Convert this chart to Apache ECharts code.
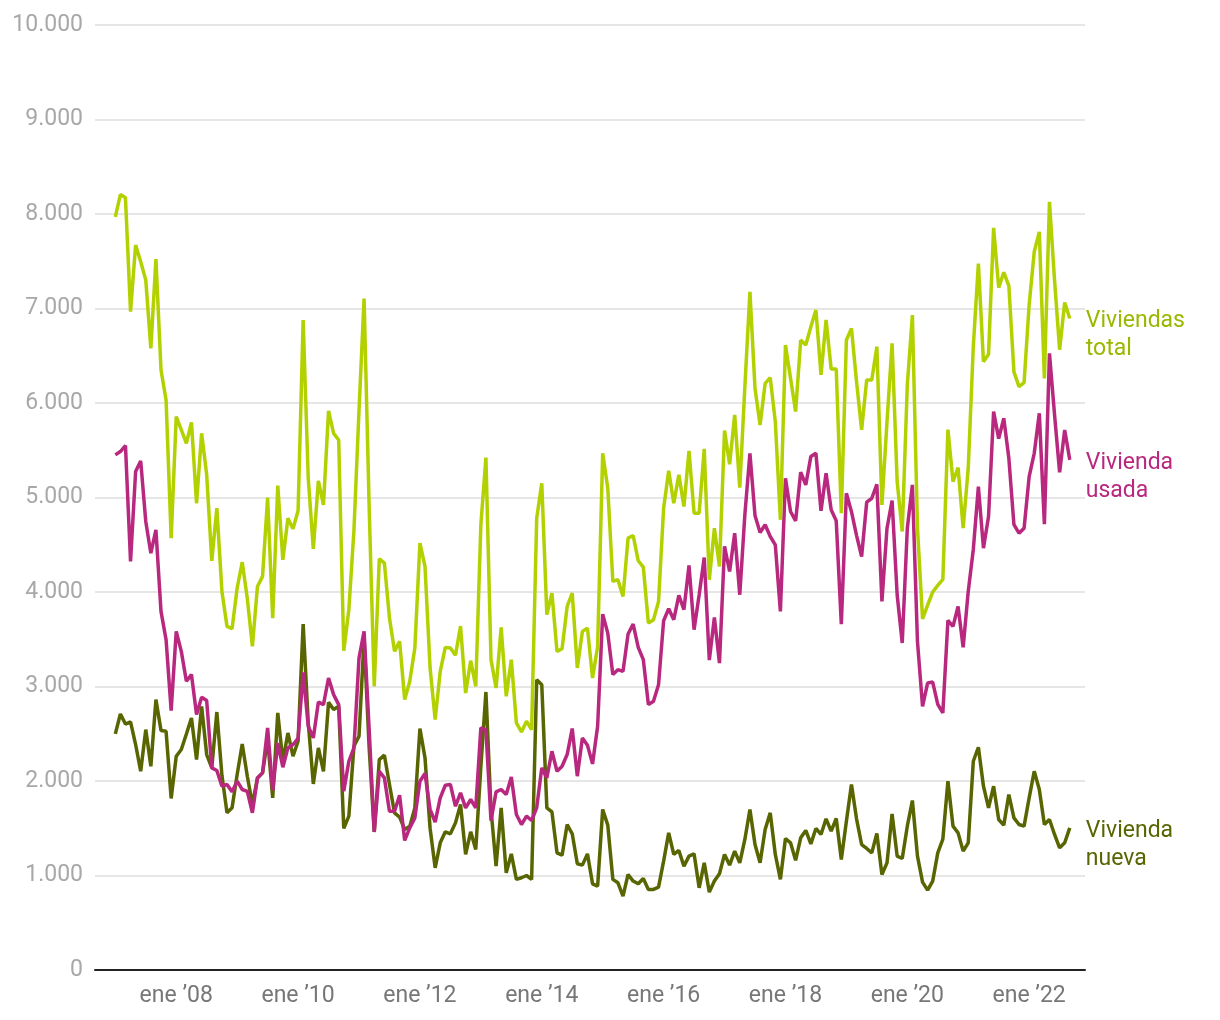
<!DOCTYPE html>
<html lang="es">
<head>
<meta charset="utf-8">
<title>Compraventa de viviendas</title>
<script src="https://cdn.jsdelivr.net/npm/echarts@6/dist/echarts.min.js"></script>
<style>
  html, body { margin: 0; padding: 0; background: #fff; }
  #chart { width: 1220px; height: 1020px; }
</style>
</head>
<body>
<div id="chart"></div>
<script>
// monthly series, ene 2007 - sep 2022
const firstYear = 2007
const padBefore = 4   // sep-dic 2006, empty
const padAfter = 3    // oct-dic 2022, empty

const total = [
  7970, 8206, 8171, 6966, 7671, 7494, 7300, 6578, 7522, 6349, 6032, 4570,
  5856, 5715, 5574, 5795, 4939, 5679, 5240, 4330, 4887, 4006, 3636, 3612,
  4042, 4316, 3930, 3425, 4059, 4165, 5000, 3724, 5127, 4341, 4781, 4669,
  4859, 6878, 5204, 4457, 5176, 4922, 5916, 5679, 5609, 3379, 3813, 4650,
  5920, 7106, 4900, 3002, 4352, 4305, 3724, 3372, 3478, 2861, 3055, 3407,
  4517, 4270, 3196, 2650, 3160, 3414, 3407, 3330, 3640, 2931, 3273, 3002,
  4711, 5422, 3284, 2984, 3626, 2896, 3284, 2614, 2519, 2632, 2544, 4781,
  5151, 3760, 3988, 3372, 3400, 3847, 3988, 3196, 3583, 3618, 3090, 3420,
  5468, 5098, 4112, 4130, 3953, 4570, 4598, 4331, 4263, 3671, 3707, 3900,
  4887, 5282, 4939, 5240, 4904, 5493, 4834, 4834, 5514, 4130, 4675, 4270,
  5708, 5352, 5874, 5105, 6170, 7177, 6155, 5768, 6208, 6268, 5803, 4764,
  6614, 6261, 5909, 6666, 6614, 6807, 6983, 6297, 6878, 6360, 6360, 4834,
  6666, 6789, 6226, 5715, 6244, 6244, 6596, 4922, 5800, 6631, 5169, 4640,
  6191, 6931, 4680, 3715, 3860, 4000, 4070, 4133, 5718, 5169, 5317, 4675,
  5310, 6600, 7476, 6437, 6515, 7853, 7220, 7382, 7240, 6330, 6173, 6215,
  7040, 7600, 7811, 6261, 8128, 7300, 6564, 7064, 6895
]

const usada = [
  5451, 5486, 5549, 4323, 5274, 5387, 4746, 4411, 4658, 3795, 3495, 2745,
  3583, 3372, 3055, 3126, 2703, 2886, 2851, 2139, 2111, 1945, 1963, 1885,
  1998, 1910, 1890, 1663, 2033, 2086, 2561, 1900, 2400, 2146, 2350, 2386,
  2450, 3150, 2579, 2456, 2836, 2808, 3090, 2914, 2808, 1892, 2209, 2350,
  3301, 3583, 2550, 1460, 2103, 2033, 1681, 1681, 1850, 1371, 1504, 1610,
  1998, 2080, 1700, 1564, 1821, 1955, 1963, 1733, 1874, 1716, 1804, 1716,
  2561, 2540, 1580, 1885, 1910, 1857, 2043, 1645, 1540, 1628, 1582, 1716,
  2139, 2033, 2315, 2103, 2156, 2280, 2555, 2051, 2456, 2378, 2181, 2579,
  3766, 3565, 3126, 3178, 3160, 3555, 3660, 3414, 3284, 2808, 2843, 3019,
  3696, 3823, 3707, 3964, 3813, 4281, 3601, 3971, 4365, 3280, 3731, 3248,
  4482, 4217, 4623, 3971, 4817, 5468, 4810, 4630, 4711, 4587, 4499, 3795,
  5204, 4852, 4753, 5267, 5134, 5433, 5468, 4859, 5257, 4870, 4753, 3660,
  5045, 4850, 4600, 4376, 4950, 4992, 5140, 3900, 4675, 4968, 3971, 3460,
  4675, 5134, 3478, 2790, 3037, 3047, 2812, 2720, 3700, 3636, 3847, 3414,
  4006, 4450, 5116, 4464, 4799, 5909, 5623, 5838, 5415, 4714, 4623, 4675,
  5221, 5468, 5891, 4717, 6525, 5877, 5267, 5715, 5398
]

const nueva = [
  2498, 2709, 2603, 2625, 2386, 2103, 2544, 2156, 2861, 2534, 2526, 1815,
  2262, 2333, 2498, 2667, 2227, 2790, 2280, 2139, 2730, 2060, 1663, 1716,
  2068, 2392, 2050, 1751, 2033, 2086, 2440, 1821, 2720, 2209, 2508, 2262,
  2420, 3660, 2620, 1969, 2350, 2103, 2833, 2756, 2790, 1498, 1628, 2368,
  2473, 3512, 2350, 1462, 2227, 2273, 1963, 1663, 1617, 1487, 1520, 1716,
  2555, 2245, 1500, 1081, 1346, 1462, 1441, 1557, 1751, 1223, 1462, 1276,
  2150, 2942, 1700, 1099, 1716, 1028, 1229, 959, 976, 1000, 959, 3072,
  3019, 1716, 1673, 1240, 1215, 1540, 1441, 1124, 1110, 1229, 912, 888,
  1699, 1533, 959, 923, 782, 1011, 941, 912, 969, 853, 853, 877,
  1152, 1451, 1223, 1265, 1099, 1205, 1229, 870, 1134, 824, 941, 1018,
  1223, 1110, 1258, 1134, 1381, 1699, 1328, 1134, 1487, 1663, 1223, 959,
  1392, 1346, 1160, 1399, 1477, 1335, 1498, 1434, 1600, 1469, 1603, 1170,
  1575, 1963, 1600, 1328, 1286, 1240, 1445, 1011, 1134, 1652, 1205, 1180,
  1522, 1794, 1205, 930, 845, 941, 1240, 1385, 1998, 1522, 1451, 1258,
  1346, 2209, 2357, 1945, 1716, 1945, 1593, 1533, 1857, 1610, 1540, 1522,
  1821, 2103, 1910, 1540, 1593, 1434, 1293, 1346, 1504
]

const seriesNames = ['Viviendas\ntotal', 'Vivienda\nusada', 'Vivienda\nnueva']
const lineColors = ['#b3d100', '#b8287f', '#586500']
const labelColors = ['#9ab800', '#b8287f', '#586500']
const monthAbbr = 'ene'

// category keys yyyy-mm, from sep 2006 to dic 2022
const months = []
for (let k = -padBefore; k < total.length + padAfter; k++) {
  const y = firstYear + Math.floor(k / 12)
  const m = ((k % 12) + 12) % 12 + 1
  months.push(y + '-' + String(m).padStart(2, '0'))
}

function pad(values) {
  return new Array(padBefore).fill(null).concat(values)
}

function isTick(value) {
  const [y, m] = value.split('-')
  return m === '01' && Number(y) % 2 === 0
}

const font = 'Roboto, "Noto Sans", sans-serif'

const chart = echarts.init(document.getElementById('chart'))

const option = {
  animation: false,
  grid: {
    left: 95,
    right: 135,
    top: 25,
    bottom: 50,
    containLabel: false
  },
  xAxis: {
    type: 'category',
    data: months,
    boundaryGap: false,
    axisLine: { lineStyle: { color: '#222', width: 2 } },
    axisTick: { show: false },
    axisLabel: {
      interval: (i, value) => isTick(value),
      formatter: (value) => monthAbbr + ' \u2019' + value.slice(2, 4),
      color: '#777',
      fontSize: 23,
      fontFamily: font,
      margin: 15
    },
    splitLine: { show: false }
  },
  yAxis: {
    type: 'value',
    min: 0,
    max: 10000,
    interval: 1000,
    axisLine: { show: false },
    axisTick: { show: false },
    axisLabel: {
      formatter: (v) => String(v).replace(/\B(?=(\d{3})+(?!\d))/g, '.'),
      color: '#a8a8a8',
      fontSize: 23,
      fontFamily: font,
      margin: 12
    },
    splitLine: { lineStyle: { color: '#e6e6e6', width: 2 } }
  },
  series: [total, usada, nueva].map((values, idx) => ({
    name: seriesNames[idx],
    type: 'line',
    data: pad(values),
    symbol: 'none',
    lineStyle: { color: lineColors[idx], width: 3.5 },
    itemStyle: { color: lineColors[idx] },
    z: 3 - idx,
    endLabel: {
      show: true,
      formatter: seriesNames[idx],
      color: labelColors[idx],
      fontSize: 23,
      fontFamily: font,
      lineHeight: 28,
      distance: 16,
      offset: [0, 17]
    }
  }))
}

chart.setOption(option)
</script>
</body>
</html>
